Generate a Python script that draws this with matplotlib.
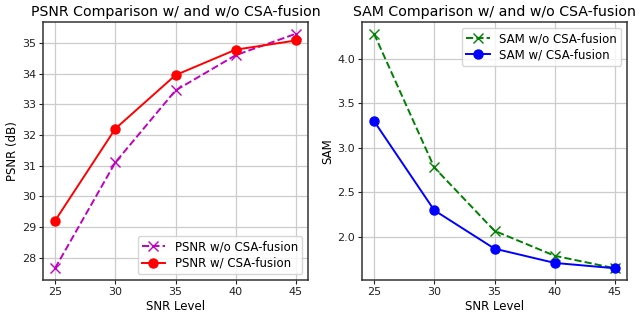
import matplotlib
matplotlib.use("Agg")
import matplotlib.pyplot as plt

snr_levels = [25, 30, 35, 40, 45]
psnr_wo = [27.65, 31.10, 33.45, 34.60, 35.30]
psnr_w = [29.20, 32.20, 33.95, 34.78, 35.08]
sam_wo = [4.28, 2.78, 2.07, 1.79, 1.65]
sam_w = [3.30, 2.30, 1.87, 1.71, 1.65]

fig = plt.figure(figsize=(6.4, 3.19), dpi=100)
ax1 = fig.add_axes([43/640, 1 - 280/319, 265/640, 258/319])
ax2 = fig.add_axes([362/640, 1 - 280/319, 265/640, 258/319])

tick_fs = 8
lab_fs = 8.5
title_fs = 10.2
leg_fs = 8.5

ax1.plot(snr_levels, psnr_wo, color='m', linestyle='--', marker='x', lw=1.4, ms=6.5,
         label='PSNR w/o CSA-fusion')
ax1.plot(snr_levels, psnr_w, color='r', linestyle='-', marker='o', lw=1.4, ms=6.5,
         label='PSNR w/ CSA-fusion')
ax1.set_title('PSNR Comparison w/ and w/o CSA-fusion', fontsize=title_fs, pad=4)
ax1.set_xlabel('SNR Level', fontsize=lab_fs, labelpad=2)
ax1.set_ylabel('PSNR (dB)', fontsize=lab_fs, labelpad=2)
ax1.set_xticks(snr_levels)
ax1.legend(fontsize=leg_fs, loc='lower right', handlelength=2.0, borderpad=0.35,
           labelspacing=0.3)

ax2.plot(snr_levels, sam_wo, color='g', linestyle='--', marker='x', lw=1.4, ms=6.5,
         label='SAM w/o CSA-fusion')
ax2.plot(snr_levels, sam_w, color='b', linestyle='-', marker='o', lw=1.4, ms=6.5,
         label='SAM w/ CSA-fusion')
ax2.set_title('SAM Comparison w/ and w/o CSA-fusion', fontsize=title_fs, pad=4)
ax2.set_xlabel('SNR Level', fontsize=lab_fs, labelpad=2)
ax2.set_ylabel('SAM', fontsize=lab_fs, labelpad=2)
ax2.set_xticks(snr_levels)
ax2.set_yticks([2.0, 2.5, 3.0, 3.5, 4.0])
ax2.legend(fontsize=leg_fs, loc='upper right', handlelength=2.0, borderpad=0.35,
           labelspacing=0.3)

for ax in (ax1, ax2):
    ax.grid(True, color='#cccccc', lw=0.9)
    ax.set_axisbelow(True)
    ax.tick_params(labelsize=tick_fs, length=3, pad=2, colors='#222222')
    for s in ax.spines.values():
        s.set_linewidth(1.1)
        s.set_color('#333333')

fig.savefig('out.png', dpi=100)
